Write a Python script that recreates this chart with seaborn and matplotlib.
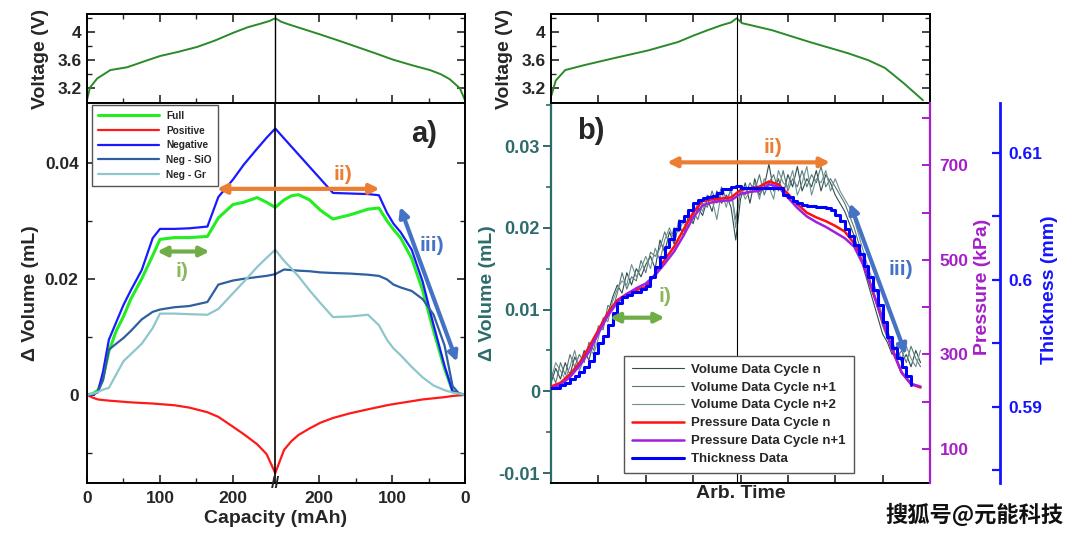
import numpy as np
import seaborn as sns
import matplotlib.pyplot as plt
from matplotlib.ticker import FixedLocator, NullFormatter, FuncFormatter

sns.set_style('ticks')
plt.rcParams['font.family'] = ['Liberation Sans', 'Noto Sans CJK SC', 'DejaVu Sans']
plt.rcParams['font.weight'] = 'bold'
plt.rcParams['axes.labelweight'] = 'bold'

# ---- panel a) : capacity axis (charge 0 -> 258, discharge back to 0 at 518) ----
volt_a_x = [0, 4, 14, 32, 55, 80, 100, 125, 151, 175, 200, 220, 237, 250, 258,
            266, 274, 295, 319, 345, 370, 395, 419, 445, 470, 485, 497, 511, 518]
volt_a_v = [3.03, 3.21, 3.34, 3.46, 3.50, 3.59, 3.66, 3.72, 3.79, 3.88, 3.99, 4.07, 4.12, 4.16, 4.2,
            4.15, 4.12, 4.05, 3.97, 3.88, 3.79, 3.70, 3.61, 3.53, 3.46, 3.40, 3.33, 3.2, 3.03]

cap_x = [0, 8, 15, 22, 30, 40, 50, 60, 75, 90,
         100, 120, 140, 165, 180, 200, 215, 233, 246, 258,
         270, 280, 290, 305, 320, 337, 360, 385, 400, 411,
         420, 430, 445, 460, 475, 490, 501, 510, 518]
# delta volume in 1e-3 mL
full = [0, 0.2, 0.8, 3.0, 7.5, 11.0, 13.5, 16.5, 20.0, 24.0,
        26.8, 27.1, 27.1, 27.3, 30.5, 32.8, 33.2, 34.0, 33.2, 32.3,
        33.6, 34.3, 34.5, 33.6, 31.8, 30.3, 31.0, 32.0, 32.2, 30.0,
        28.5, 27.0, 23.5, 18.0, 11.0, 4.5, 0.6, 0.2, 0]
positive = [0, -0.5, -0.8, -0.9, -1.0, -1.1, -1.2, -1.3, -1.4, -1.5,
            -1.6, -1.8, -2.2, -3.0, -3.8, -5.5, -6.8, -8.5, -10.2, -13.5,
            -9.5, -8.0, -6.9, -5.8, -4.8, -4.0, -3.2, -2.5, -2.1, -1.8,
            -1.6, -1.4, -1.1, -0.8, -0.6, -0.4, -0.2, -0.1, 0]
negative = [0, 0, 0.5, 4.0, 9.5, 12.5, 15.5, 18.0, 21.5, 27.0,
            28.6, 28.6, 28.7, 29.0, 34.1, 37.1, 39.7, 42.4, 44.3, 45.9,
            44.2, 42.8, 41.4, 39.3, 37.2, 34.8, 34.7, 34.6, 34.4, 31.4,
            29.5, 28.0, 25.0, 19.5, 12.0, 5.0, 0.6, 0.2, 0]
neg_sio = [0, 0.1, 0.5, 2.5, 7.8, 8.8, 9.8, 11.0, 13.0, 14.3,
           14.7, 15.1, 15.3, 16.0, 19.0, 19.7, 20.0, 20.3, 20.5, 20.8,
           21.6, 21.5, 21.4, 21.3, 21.1, 21.0, 20.9, 20.7, 20.5, 19.9,
           19.0, 18.5, 17.9, 16.5, 13.8, 8.5, 1.5, 0.2, 0]
neg_gr = [0, 0.2, 0.5, 0.9, 1.2, 3.5, 5.8, 7.0, 8.8, 11.5,
          14.0, 14.0, 13.9, 13.8, 14.8, 17.5, 19.5, 22.0, 23.6, 25.0,
          23.1, 21.8, 20.4, 18.0, 15.8, 13.4, 13.5, 13.8, 12.0, 9.5,
          8.0, 6.8, 4.8, 3.0, 1.6, 0.8, 0.4, 0.2, 0]

cap_ticks = [0, 100, 200, 318, 418, 518]
cap_labels = ['0', '100', '200', '200', '100', '0']

# ---- panel b) : arbitrary time ----
volt_b_t = [0, 0.1, 0.3, 0.7, 1.33, 2.05, 2.68, 3.0, 3.31, 3.6, 3.8, 3.92, 4.03, 4.66, 5.46, 6.27,
            6.7, 7.05, 7.45, 7.85]
volt_b_v = [3.08, 3.31, 3.46, 3.53, 3.63, 3.74, 3.86, 3.95, 4.03, 4.1, 4.14, 4.2, 4.13, 4.03, 3.86, 3.7,
            3.6, 3.49, 3.27, 3.03]

# volume data, 1e-3 mL, one sample every 0.1 time units
vol_n = [1.0, 2.8, 1.5, 3.5, 2.0, 4.2, 3.0, 5.0, 3.8, 6.0,
         7.0, 8.8, 9.5, 11.5, 13.0, 12.0, 14.5, 13.0, 15.0, 14.0,
         15.5, 16.5, 15.0, 18.5, 17.0, 19.5, 18.0, 20.5, 19.0, 21.5,
         20.5, 22.5, 21.5, 23.5, 22.0, 24.5, 23.0, 24.0, 22.5, 18.5,
         23.5, 25.5, 23.0, 26.0, 24.0, 25.0, 27.8, 24.5, 26.0, 24.0,
         26.5, 25.0, 27.5, 24.5, 26.0, 25.0, 27.0, 24.5, 26.5, 25.5,
         24.0, 23.0, 22.0, 20.5, 19.0, 17.0, 15.0, 13.0, 11.0, 9.0,
         7.0, 6.0, 4.5, 5.5, 3.5, 4.5, 3.0, 5.0, 3.5]
vol_n1 = [2.5, 1.0, 3.5, 2.0, 4.5, 3.0, 4.5, 3.5, 6.0, 5.0,
          8.0, 7.5, 10.5, 10.0, 12.0, 14.5, 12.5, 14.0, 13.5, 16.0,
          14.5, 17.0, 16.5, 17.5, 19.5, 18.0, 20.0, 19.5, 21.0, 20.0,
          22.0, 21.0, 23.0, 22.5, 24.5, 23.0, 25.0, 23.5, 24.5, 21.0,
          24.5, 24.0, 25.5, 24.5, 26.5, 24.0, 25.5, 26.5, 24.5, 27.0,
          24.5, 26.0, 25.0, 27.0, 25.0, 26.5, 25.5, 27.5, 25.0, 26.0,
          25.0, 24.0, 23.0, 21.5, 20.0, 18.0, 16.0, 14.5, 12.0, 10.0,
          8.0, 6.5, 5.5, 4.0, 5.0, 3.5, 5.5, 4.0, 3.0]
vol_n2 = [1.5, 3.5, 2.5, 1.5, 3.0, 5.0, 2.5, 4.0, 5.5, 4.5,
          6.5, 9.0, 8.5, 11.0, 12.5, 13.5, 13.0, 15.5, 14.0, 15.0,
          16.5, 15.0, 17.5, 16.0, 18.5, 20.0, 18.5, 21.0, 20.5, 20.0,
          21.5, 23.0, 22.0, 24.0, 23.5, 21.0, 24.5, 22.5, 25.0, 20.0,
          25.0, 23.5, 24.5, 25.5, 23.5, 26.0, 25.0, 23.5, 27.0, 25.5,
          25.0, 27.0, 24.0, 25.5, 27.5, 24.0, 26.0, 25.5, 27.0, 24.5,
          26.0, 24.5, 23.5, 22.5, 21.0, 19.0, 17.0, 15.0, 13.5, 11.5,
          9.0, 7.5, 6.0, 5.0, 4.0, 5.5, 4.0, 3.0, 5.0]

# pressure (kPa), one sample every 0.2 time units
pres_n = [232, 240, 258, 282, 315, 352, 388, 415, 428, 436,
          443, 470, 500, 528, 565, 600, 625, 628, 630, 632,
          648, 652, 655, 666, 660, 640, 618, 600, 590, 582,
          572, 560, 535, 490, 430, 372, 310, 262, 237, 230]
pres_n1 = [228, 236, 252, 276, 305, 345, 382, 410, 428, 440,
           450, 468, 492, 518, 552, 590, 615, 622, 625, 626,
           640, 644, 646, 660, 655, 632, 610, 592, 580, 570,
           558, 546, 528, 488, 432, 372, 312, 262, 238, 232]

# thickness (mm), one sample every 0.1 time units
thick = [.5915, .5915, .5917, .5919, .5922, .5924, .5927, .5931, .5936, .5942,
         .5950, .5956, .5964, .5974, .5982, .5986, .5988, .5990, .5990, .5993,
         .5995, .6002, .6010, .6018, .6026, .6032, .6040, .6046, .6050, .6055,
         .6060, .6063, .6064, .6065, .6066, .6068, .6071, .6071, .6073, .6074,
         .6072, .6072, .6072, .6072, .6072, .6072, .6072, .6072, .6072, .6067,
         .6065, .6062, .6060, .6059, .6058, .6058, .6057, .6057, .6056, .6055,
         .6051, .6046, .6040, .6034, .6027, .6020, .6011, .6002, .5992, .5980,
         .5967, .5955, .5946, .5938, .5931, .5924, .5917]

vol_t = np.arange(len(vol_n)) * 0.1
pres_t = np.arange(len(pres_n)) * 0.2
thick_t = np.arange(len(thick)) * 0.1

# colours
c_volt = '#2a8a2a'
teal = '#2e6b6b'
purple = '#a51fc8'
tblue = '#1414ff'
orange = '#ED7D31'
agreen = '#70AD47'
ablue = '#4472C4'

W, H = 1080, 538


def px_box(x0, y0, x1, y1):
    return [x0 / W, 1 - y1 / H, (x1 - x0) / W, (y1 - y0) / H]


def frame(ax, lw=1.4):
    for s in ax.spines.values():
        s.set_linewidth(lw)
        s.set_color('black')


def arrow(ax, p0, p1, color, trans=None):
    ax.annotate('', xy=p1, xytext=p0, xycoords=trans or 'data', textcoords=trans or 'data',
                arrowprops=dict(arrowstyle='<|-|>', color=color, lw=3, mutation_scale=14,
                                shrinkA=0, shrinkB=0))


fig = plt.figure(figsize=(10.8, 5.38), dpi=100)

# ================= panel a =================
axv1 = fig.add_axes(px_box(87, 14, 465, 103))
ax1 = fig.add_axes(px_box(87, 103, 465, 483))

sns.lineplot(x=volt_a_x, y=volt_a_v, ax=axv1, color=c_volt, lw=1.4, estimator=None)
axv1.axvline(258, color='black', lw=1.0)
axv1.set_xlim(0, 518)
axv1.set_ylim(2.99, 4.26)
axv1.yaxis.set_major_locator(FixedLocator([3.2, 3.6, 4.0]))
axv1.yaxis.set_minor_locator(FixedLocator([3.4, 3.8, 4.2]))
axv1.yaxis.set_major_formatter(FuncFormatter(lambda v, p: f'{v:g}'))
axv1.xaxis.set_major_locator(FixedLocator(cap_ticks))
axv1.xaxis.set_minor_locator(FixedLocator([50, 150, 368, 468]))
axv1.tick_params(which='both', direction='in', top=True, right=True, labelbottom=False,
                 labelsize=12.5, pad=4)
axv1.tick_params(which='major', length=6, width=1.2)
axv1.tick_params(which='minor', length=3.5, width=1.0)
axv1.set_ylabel('Voltage (V)', fontsize=14)
axv1.yaxis.set_label_coords(-0.1, 0.5)
frame(axv1)

sns.lineplot(x=cap_x, y=np.array(full) * 1e-3, ax=ax1, color='#22ee22', lw=2.2, label='Full',
             estimator=None, legend=False)
sns.lineplot(x=cap_x, y=np.array(positive) * 1e-3, ax=ax1, color='#ff1a1a', lw=1.6, label='Positive',
             estimator=None, legend=False)
sns.lineplot(x=cap_x, y=np.array(negative) * 1e-3, ax=ax1, color='#1a1aff', lw=1.6, label='Negative',
             estimator=None, legend=False)
sns.lineplot(x=cap_x, y=np.array(neg_sio) * 1e-3, ax=ax1, color='#2f5f9f', lw=1.6, label='Neg - SiO',
             estimator=None, legend=False)
sns.lineplot(x=cap_x, y=np.array(neg_gr) * 1e-3, ax=ax1, color='#8ec6c9', lw=1.6, label='Neg - Gr',
             estimator=None, legend=False)
ax1.axvline(258, color='black', lw=1.2)
ax1.set_xlim(0, 518)
ax1.set_ylim(-0.0152, 0.0503)
ax1.xaxis.set_major_locator(FixedLocator(cap_ticks))
ax1.xaxis.set_minor_locator(FixedLocator([50, 150, 368, 468]))
ax1.set_xticklabels(cap_labels)
ax1.yaxis.set_major_locator(FixedLocator([0, 0.02, 0.04]))
ax1.yaxis.set_minor_locator(FixedLocator([-0.01, 0.01, 0.03]))
ax1.set_yticklabels(['0', '0.02', '0.04'])
ax1.tick_params(which='both', direction='in', top=False, right=True, labelsize=12.5, pad=6)
ax1.tick_params(which='major', length=6, width=1.2)
ax1.tick_params(which='minor', length=3.5, width=1.0)
ax1.set_xlabel('Capacity (mAh)', fontsize=14)
ax1.xaxis.set_label_coords(0.5, -0.072)
ax1.set_ylabel('\u0394 Volume (mL)', fontsize=14)
ax1.yaxis.set_label_coords(-0.128, 0.5)
frame(ax1)
ax1.text(258, 0, '//', transform=ax1.get_xaxis_transform(), ha='center', va='center',
         fontsize=12, fontweight='bold')

h1 = [l for l in ax1.get_lines() if not l.get_label().startswith('_')]
ax1.legend(handles=h1, loc='upper left', bbox_to_anchor=(0.013, 0.995), borderaxespad=0,
           fontsize=7.3, handlelength=6.0, handletextpad=0.7, labelspacing=0.46, borderpad=0.6,
           frameon=True, fancybox=False, edgecolor='#555555', framealpha=1)

ax1.text(462, 0.045, 'a)', fontsize=21, ha='center', va='center')
arrow(ax1, (178, 0.0355), (401, 0.0355), orange)
ax1.text(351, 0.0379, 'ii)', color=orange, fontsize=15, ha='center', va='center')
arrow(ax1, (96, 0.0247), (168, 0.0247), agreen)
ax1.text(130, 0.0212, 'i)', color='#8cb85c', fontsize=15, ha='center', va='center')
arrow(ax1, (429, 0.0324), (507, 0.0057), ablue)
ax1.text(473, 0.0257, 'iii)', color=ablue, fontsize=15, ha='center', va='center')

# ================= panel b =================
axv2 = fig.add_axes(px_box(551, 14, 930, 103))
ax2 = fig.add_axes(px_box(551, 103, 930, 483))

sns.lineplot(x=volt_b_t, y=volt_b_v, ax=axv2, color=c_volt, lw=1.4, estimator=None)
axv2.axvline(3.92, color='black', lw=0.8)
axv2.set_xlim(0, 8)
axv2.set_ylim(2.99, 4.26)
axv2.yaxis.set_major_locator(FixedLocator([3.2, 3.6, 4.0]))
axv2.yaxis.set_minor_locator(FixedLocator([3.4, 3.8, 4.2]))
axv2.yaxis.set_major_formatter(FuncFormatter(lambda v, p: f'{v:g}'))
axv2.xaxis.set_major_locator(FixedLocator(range(9)))
axv2.tick_params(which='both', direction='in', top=True, right=True, labelbottom=False,
                 labelsize=12.5, pad=4)
axv2.tick_params(which='major', length=6, width=1.2)
axv2.tick_params(which='minor', length=3.5, width=1.0)
axv2.set_ylabel('Voltage (V)', fontsize=14)
axv2.yaxis.set_label_coords(-0.1, 0.5)
frame(axv2)

ax_p = ax2.twinx()
ax_t = ax2.twinx()
ax_t.spines['right'].set_position(('axes', (1000 - 551) / 379))

sns.lineplot(x=vol_t, y=np.array(vol_n) * 1e-3, ax=ax2, color='#2f4f4f', lw=0.8,
             label='Volume Data Cycle n', estimator=None, legend=False)
sns.lineplot(x=vol_t, y=np.array(vol_n1) * 1e-3, ax=ax2, color='#587878', lw=0.8,
             label='Volume Data Cycle n+1', estimator=None, legend=False)
sns.lineplot(x=vol_t, y=np.array(vol_n2) * 1e-3, ax=ax2, color='#6f9090', lw=0.8,
             label='Volume Data Cycle n+2', estimator=None, legend=False)
ax2.axvline(3.92, color='black', lw=0.8)

sns.lineplot(x=pres_t, y=pres_n, ax=ax_p, color='#ff1010', lw=1.8,
             label='Pressure Data Cycle n', estimator=None, legend=False)
sns.lineplot(x=pres_t, y=pres_n1, ax=ax_p, color='#a020e0', lw=1.8,
             label='Pressure Data Cycle n+1', estimator=None, legend=False)
sns.lineplot(x=thick_t, y=thick, ax=ax_t, color='#0000ff', lw=2.2, drawstyle='steps-post',
             label='Thickness Data', estimator=None, legend=False)

ax2.set_xlim(0, 8)
ax2.set_ylim(-0.01122, 0.03526)
ax_p.set_ylim(28, 832)
ax_t.set_ylim(0.584, 0.6139)

frame(ax2)
ax2.spines['left'].set_color(teal)
ax2.spines['left'].set_linewidth(1.6)
ax2.spines['right'].set_visible(False)
ax2.xaxis.set_major_locator(FixedLocator(range(9)))
ax2.tick_params(axis='x', which='both', direction='in', labelbottom=False, length=6, width=1.2)
ax2.yaxis.set_major_locator(FixedLocator([-0.01, 0, 0.01, 0.02, 0.03]))
ax2.yaxis.set_minor_locator(FixedLocator([-0.005, 0.005, 0.015, 0.025, 0.035]))
ax2.yaxis.set_major_formatter(FuncFormatter(lambda v, p: f'{round(v, 3):g}'))
ax2.tick_params(axis='y', which='both', direction='out', colors=teal, labelsize=13, pad=2)
ax2.tick_params(axis='y', which='major', length=6, width=1.4)
ax2.tick_params(axis='y', which='minor', length=3.5, width=1.2)
ax2.set_xlabel('Arb. Time', fontsize=14)
ax2.xaxis.set_label_coords(0.5, -0.004)
ax2.set_ylabel('\u0394 Volume (mL)', fontsize=14, color=teal)
ax2.yaxis.set_label_coords(-0.145, 0.5)

for ax in (ax_p, ax_t):
    for side in ('top', 'bottom', 'left'):
        ax.spines[side].set_visible(False)
ax_p.spines['right'].set_color(purple)
ax_p.spines['right'].set_linewidth(1.6)
ax_p.yaxis.set_major_locator(FixedLocator([100, 300, 500, 700]))
ax_p.yaxis.set_minor_locator(FixedLocator([200, 400, 600, 800]))
ax_p.yaxis.set_minor_formatter(NullFormatter())
ax_p.tick_params(axis='y', which='both', direction='in', colors=purple, length=6, width=1.4,
                 labelsize=12.5, pad=7)
ax_p.set_ylabel('Pressure (kPa)', fontsize=14, color=purple)
ax_p.yaxis.set_label_coords(1.116, 0.516)

ax_t.spines['right'].set_color(tblue)
ax_t.spines['right'].set_linewidth(2.0)
ax_t.yaxis.set_major_locator(FixedLocator([0.59, 0.6, 0.61]))
ax_t.yaxis.set_minor_locator(FixedLocator([0.585, 0.595, 0.605]))
ax_t.yaxis.set_major_formatter(FuncFormatter(lambda v, p: f'{round(v, 3):g}'))
ax_t.tick_params(axis='y', which='both', direction='in', colors=tblue, length=6, width=1.6,
                 labelsize=12.5, pad=6)
ax_t.set_ylabel('Thickness (mm)', fontsize=14, color=tblue)
ax_t.yaxis.set_label_coords(1.293, 0.508)

h2 = [l for a in (ax2, ax_p, ax_t) for l in a.get_lines() if not l.get_label().startswith('_')]
ax_t.legend(handles=h2, loc='lower left', bbox_to_anchor=(0.193, 0.026), borderaxespad=0,
            fontsize=9.5, handlelength=3.9, handletextpad=0.6, labelspacing=0.43, borderpad=0.6,
            frameon=True, fancybox=False, edgecolor='#555555', framealpha=1)

tr = ax2.transData
ax_t.text(0.84, 0.0318, 'b)', transform=tr, fontsize=21, ha='center', va='center')
arrow(ax_t, (2.45, 0.028), (5.89, 0.028), orange, tr)
ax_t.text(4.68, 0.0298, 'ii)', transform=tr, color=orange, fontsize=15, ha='center', va='center')
arrow(ax_t, (1.24, 0.009), (2.4, 0.009), agreen, tr)
ax_t.text(2.4, 0.0116, 'i)', transform=tr, color='#8cb85c', fontsize=15, ha='center', va='center')
arrow(ax_t, (6.31, 0.023), (7.49, 0.0045), ablue, tr)
ax_t.text(7.38, 0.0149, 'iii)', transform=tr, color=ablue, fontsize=15, ha='center', va='center')

fig.text(975 / W, 1 - 515 / H, '搜狐号@元能科技', ha='center', va='center', fontsize=16,
         family=['Noto Sans CJK SC'], color='#111111', fontweight='bold')

fig.savefig('out.png', dpi=100)
